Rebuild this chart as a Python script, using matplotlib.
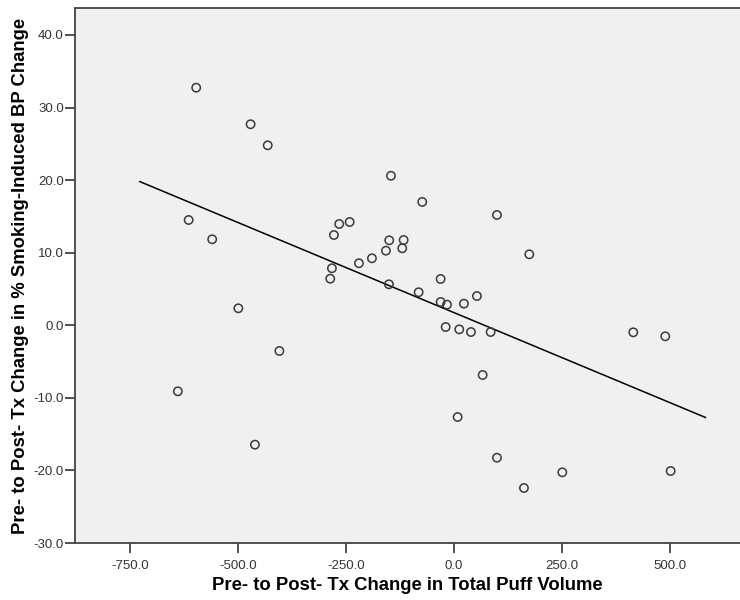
import numpy as np
import matplotlib
matplotlib.use("Agg")
import matplotlib.pyplot as plt

# values
puff_change = [-596.5, -470.6, -431.0, -145.8, -73.4, -559.5, -265.5, -241.4,
               -277.8, -149.8, -116.4, -157.4, -119.7, -189.8, -219.9, -282.4,
               -286.3, -150.5, -30.8, -81.7, -30.8, -16.2, 23.1, 53.2,
               -19.2, 12.3, 39.4, 84.9, 66.4, 8.5, 99.5, 250.8,
               162.0, 99.5, 174.4, 415.0, 489.0, 501.5, -614.0, -499.0,
               -404.0, -639.0, -460.6]
bp_change = [32.74, 27.7, 24.8, 20.6, 17.0, 11.85, 13.96, 14.23,
             12.44, 11.71, 11.75, 10.28, 10.61, 9.23, 8.55, 7.86,
             6.42, 5.65, 6.38, 4.55, 3.21, 2.84, 2.98, 4.03,
             -0.24, -0.56, -0.93, -0.93, -6.85, -12.64, -18.25, -20.26,
             -22.42, 15.2, 9.78, -0.97, -1.52, -20.08, 14.51, 2.34,
             -3.54, -9.10, -16.45]

# fit line as drawn in the reference (ends)
fit_x = [-727, 582]
fit_y = [19.8, -12.7]

x_ticks = [-750, -500, -250, 0, 250, 500]
y_ticks = [-30, -20, -10, 0, 10, 20, 30, 40]

plt.rcParams['font.family'] = ['Liberation Sans', 'DejaVu Sans']

fig = plt.figure(figsize=(7.4, 6.0), dpi=100)
ax = fig.add_axes([75 / 740, 57 / 600, 1 - 75 / 740, 535 / 600])
ax.set_facecolor('#f0f0f0')

ax.scatter(puff_change, bp_change, s=36, facecolors='none',
           edgecolors='#3a3a3a', linewidths=1.1, zorder=3)
ax.plot(fit_x, fit_y, color='black', lw=1.1, zorder=2)

ax.set_xlim(-877, 662)
ax.set_ylim(-30, 43.72)
ax.set_xticks(x_ticks)
ax.set_yticks(y_ticks)
ax.set_xticklabels(['%.1f' % v for v in x_ticks])
ax.set_yticklabels(['%.1f' % v for v in y_ticks])
ax.tick_params(direction='out', length=7, width=1.2, color='#333333',
               labelsize=9.5, labelcolor='#333333')
ax.tick_params(axis='x', pad=5)
ax.tick_params(axis='y', pad=1)

for side in ['left', 'bottom', 'top']:
    ax.spines[side].set_color('#444444')
    ax.spines[side].set_linewidth(1.3)
ax.spines['right'].set_visible(False)

ax.set_xlabel('Pre- to Post- Tx Change in Total Puff Volume', fontsize=13.3,
              fontweight='bold', color='black', labelpad=4)
ax.set_ylabel('Pre- to Post- Tx Change in % Smoking-Induced BP Change',
              fontsize=13.3, fontweight='bold', color='black', labelpad=3)

fig.savefig('out.png', dpi=100)
